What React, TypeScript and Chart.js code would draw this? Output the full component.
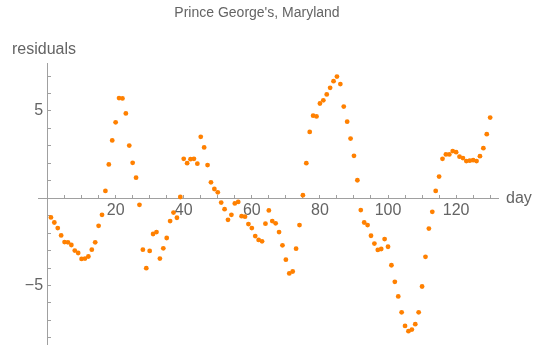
import React, { useEffect, useRef } from "react";
import { Chart, registerables } from "chart.js";

Chart.register(...registerables);

const days = [
  1, 2, 3, 4, 5, 6, 7, 8, 9, 10, 11, 12, 13, 14, 15, 16, 17, 18, 19, 20,
  21, 22, 23, 24, 25, 26, 27, 28, 29, 30, 31, 32, 33, 34, 35, 36, 37, 38, 39, 40,
  41, 42, 43, 44, 45, 46, 47, 48, 49, 50, 51, 52, 53, 54, 55, 56, 57, 58, 59, 60,
  61, 62, 63, 64, 65, 66, 67, 68, 69, 70, 71, 72, 73, 74, 75, 76, 77, 78, 79, 80,
  81, 82, 83, 84, 85, 86, 87, 88, 89, 90, 91, 92, 93, 94, 95, 96, 97, 98, 99, 100,
  101, 102, 103, 104, 105, 106, 107, 108, 109, 110, 111, 112, 113, 114, 115, 116, 117, 118, 119, 120,
  121, 122, 123, 124, 125, 126, 127, 128, 129, 130,
];

const residuals = [
  -1.10, -1.39, -1.71, -2.13, -2.51, -2.53, -2.68, -3.00, -3.14, -3.48,
  -3.46, -3.34, -2.95, -2.53, -1.58, -0.95, 0.42, 1.94, 3.31, 4.35,
  5.74, 5.72, 4.86, 3.02, 2.03, 1.18, -0.38, -2.95, -4.01, -3.02,
  -2.05, -1.94, -3.46, -2.87, -2.28, -1.31, -0.82, -1.12, 0.07, 2.26,
  2.01, 2.24, 2.26, 1.98, 3.52, 2.91, 1.90, 0.91, 0.53, 0.34,
  -0.25, -0.63, -1.24, -0.95, -0.30, -0.21, -1.03, -1.06, -1.48, -1.71,
  -2.17, -2.39, -2.47, -1.46, -0.70, -1.31, -1.44, -1.94, -2.70, -3.52,
  -4.31, -4.20, -2.89, -1.54, 0.17, 2.01, 3.80, 4.73, 4.69, 5.43,
  5.61, 5.95, 6.33, 6.71, 6.97, 6.54, 5.25, 4.39, 3.42, 2.43,
  1.03, -0.68, -1.39, -1.54, -2.15, -2.60, -2.96, -2.91, -2.34, -2.78,
  -3.84, -4.79, -5.63, -6.54, -7.32, -7.62, -7.53, -7.22, -6.54, -5.06,
  -3.36, -1.74, -0.78, 0.42, 1.24, 2.26, 2.51, 2.51, 2.70, 2.64,
  2.38, 2.30, 2.13, 2.15, 2.18, 2.13, 2.41, 2.87, 3.67, 4.62,
];

const xLabelTicks = [20, 40, 60, 80, 100, 120];
const yLabelTicks = [5, -5];

const titleText = "Prince George's, Maryland";
const yAxisTitle = "residuals";
const xAxisTitle = "day";

const FONT = "'Liberation Sans', Arial, sans-serif";
const AXIS = "rgb(160,160,160)";
const LABEL = "rgb(100,100,100)";

const textPlugin = {
  id: "mmaTexts",
  afterDraw(chart: any) {
    const ctx = chart.ctx;
    ctx.save();
    ctx.fillStyle = LABEL;
    ctx.textBaseline = "alphabetic";
    ctx.font = `14px ${FONT}`;
    ctx.textAlign = "center";
    ctx.fillText(titleText, 257, 17);
    ctx.font = `16px ${FONT}`;
    ctx.textAlign = "left";
    ctx.fillText(yAxisTitle, 12, 54);
    const y0 = chart.scales.y.getPixelForValue(0);
    ctx.fillText(xAxisTitle, 506, y0 + 5);
    ctx.restore();
  },
};

export default function App() {
  const ref = useRef<HTMLCanvasElement | null>(null);
  useEffect(() => {
    document.body.style.margin = "0";
    const canvas = ref.current;
    if (!canvas) return;
    const chart = new Chart(canvas, {
      type: "scatter",
      data: {
        datasets: [
          {
            data: days.map((d, i) => ({ x: d, y: residuals[i] })),
            backgroundColor: "rgb(255,128,0)",
            borderWidth: 0,
            pointRadius: 2.4,
            pointHoverRadius: 2.4,
          },
        ],
      },
      options: {
        animation: false,
        responsive: false,
        devicePixelRatio: 1,
        layout: { padding: { left: 38, right: 47, top: 63, bottom: 4.8 } },
        plugins: { legend: { display: false }, tooltip: { enabled: false }, title: { display: false } },
        scales: {
          x: {
            type: "linear",
            position: { y: 0 },
            min: -2.8,
            max: 132.3,
            border: { display: true, color: AXIS, width: 1 },
            grid: { display: true, drawOnChartArea: false, drawTicks: true, tickLength: -4, color: AXIS, tickColor: AXIS },
            ticks: {
              stepSize: 5,
              autoSkip: false,
              includeBounds: false,
              maxRotation: 0,
              padding: 7,
              color: LABEL,
              font: { family: FONT, size: 16 },
              callback: (v: any) => (xLabelTicks.includes(Number(v)) ? String(v) : ""),
            },
          },
          y: {
            type: "linear",
            position: { x: 0 },
            min: -8.4,
            max: 7.75,
            border: { display: true, color: AXIS, width: 1 },
            grid: { display: true, drawOnChartArea: false, drawTicks: true, tickLength: -4, color: AXIS, tickColor: AXIS },
            ticks: {
              stepSize: 1,
              autoSkip: false,
              includeBounds: false,
              padding: 4,
              color: LABEL,
              font: { family: FONT, size: 16, lineHeight: 0.4 },
              callback: (v: any) => {
                const n = Number(v);
                if (!yLabelTicks.includes(n)) return "";
                return (n < 0 ? "\u2212" + Math.abs(n) : String(n)) + " ";
              },
            },
          },
        },
      },
      plugins: [textPlugin],
    });
    return () => chart.destroy();
  }, []);
  return (
    <div style={{ width: 545, height: 352 }}>
      <canvas ref={ref} width={545} height={352} style={{ width: 545, height: 352, display: "block" }} />
    </div>
  );
}
